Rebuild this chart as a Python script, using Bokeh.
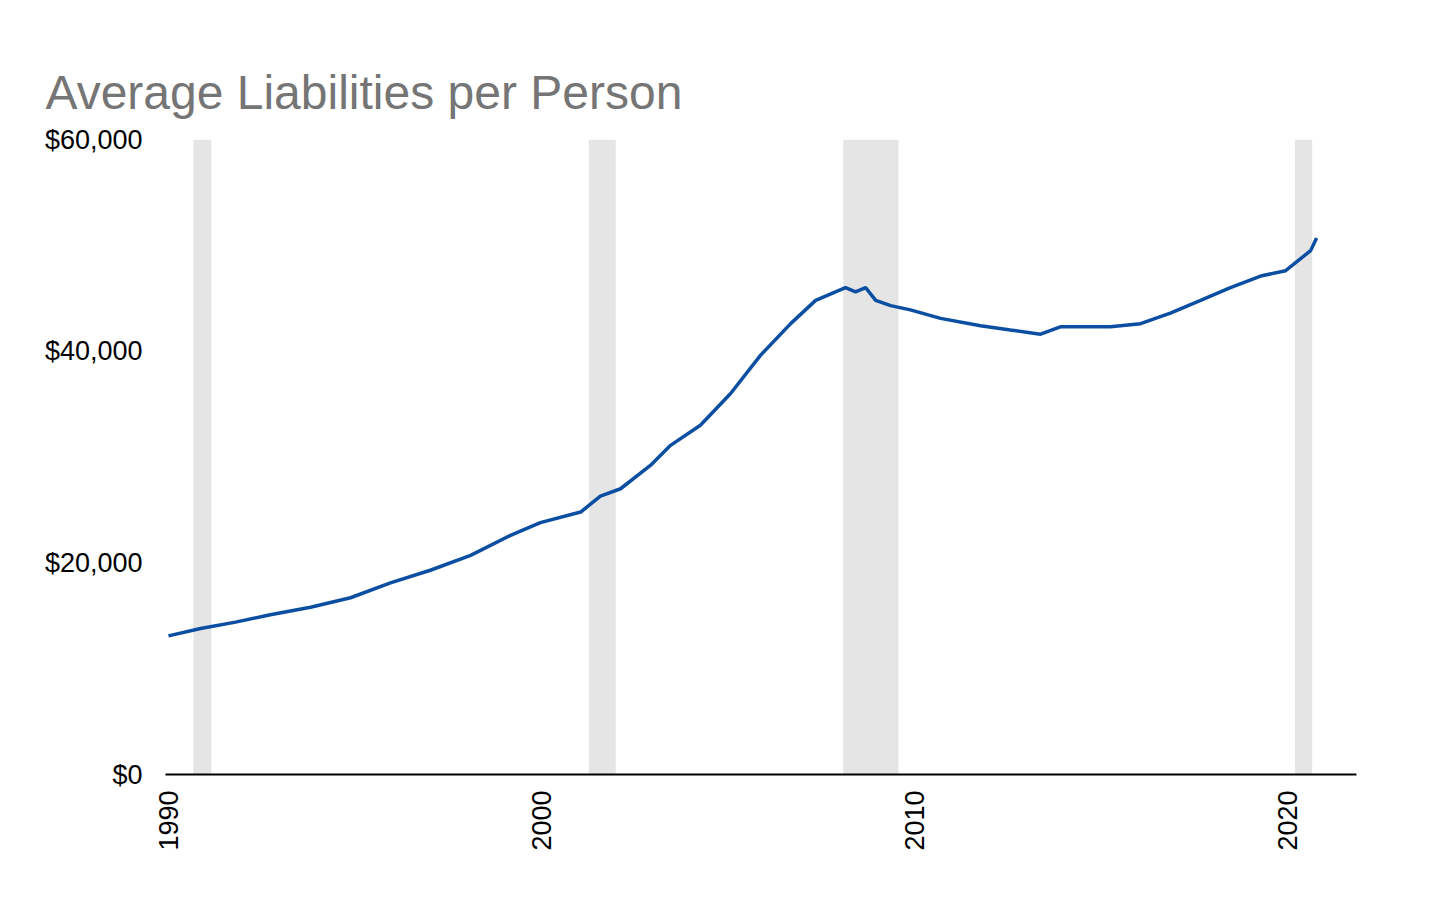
from bokeh.plotting import figure
from bokeh.models import Range1d, NumeralTickFormatter, FixedTicker
from bokeh.embed import file_html
from bokeh.resources import INLINE
import math

years = [1990.0,1990.86,1991.8,1992.73,1993.81,1994.88,1995.95,1997.02,1998.1,1999.17,1999.97,
         2001.05,2001.58,2002.12,2002.92,2003.46,2004.26,2005.07,2005.87,2006.68,2007.35,2008.15,
         2008.42,2008.69,2008.96,2009.36,2009.89,2010.7,2011.77,2012.57,2013.38,2013.91,2014.72,
         2015.25,2016.06,2016.86,2017.67,2018.47,2019.28,2019.95,2020.62,2020.78]
liab = [13100,13800,14400,15100,15800,16700,18100,19300,20700,22600,23800,
        24800,26300,27000,29200,31100,33000,36000,39600,42600,44800,46000,
        45600,46000,44800,44300,43900,43100,42400,42000,41600,42300,42300,
        42300,42600,43600,44800,46000,47100,47600,49500,50700]
rec_start = [1990.67, 2001.27, 2008.09, 2020.2]
rec_end = [1991.15, 2001.99, 2009.57, 2020.66]

p = figure(width=1440, height=890, output_backend="svg", toolbar_location=None,
           x_range=Range1d(1989.92, 2021.85), y_range=Range1d(0, 60000),
           min_border_left=165, min_border_right=84, min_border_bottom=116, min_border_top=139,
           title="Average Liabilities per Person")
p.title.text_font = "Liberation Sans"
p.title.text_font_size = "48px"
p.title.text_font_style = "normal"
p.title.text_color = "#757575"
p.title.offset = -120
p.title.standoff = 42
p.outline_line_color = None
p.xgrid.grid_line_color = None
p.ygrid.grid_line_color = None

p.quad(left=rec_start, right=rec_end, bottom=0, top=60000, fill_color="#e5e5e5", line_color=None)
p.line(years, liab, line_color="#0b4ea2", line_width=3.5)

p.yaxis.ticker = FixedTicker(ticks=[0, 20000, 40000, 60000])
p.yaxis.formatter = NumeralTickFormatter(format="$0,0")
p.yaxis.axis_line_color = None
p.yaxis.major_tick_line_color = None
p.yaxis.minor_tick_line_color = None
p.yaxis.major_label_standoff = 17
p.xaxis.ticker = FixedTicker(ticks=[1990, 2000, 2010, 2020])
p.xaxis.major_label_orientation = math.pi / 2
p.xaxis.major_tick_line_color = None
p.xaxis.minor_tick_line_color = None
p.xaxis.axis_line_color = "black"
p.xaxis.axis_line_width = 2
p.xaxis.major_label_standoff = 10
for ax in (p.xaxis, p.yaxis):
    ax.major_label_text_font = "Liberation Sans"
    ax.major_label_text_font_size = "27px"
    ax.major_label_text_color = "black"

open("out.html", "w").write(file_html(p, INLINE))
